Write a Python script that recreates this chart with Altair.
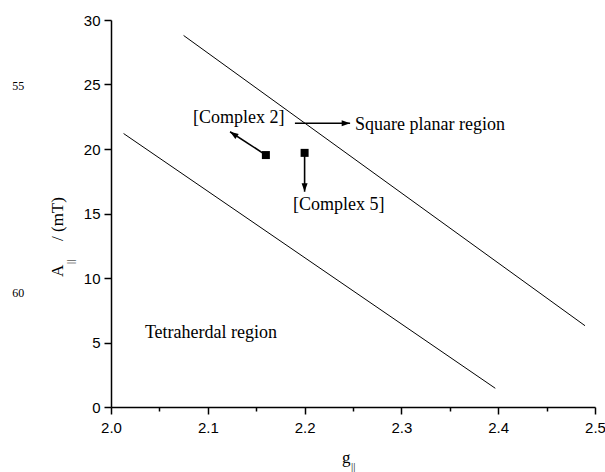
import altair as alt
import pandas as pd

# boundary lines (g_par, A_par)
line_id = ["tetra", "tetra", "square", "square"]
line_g = [2.013, 2.397, 2.075, 2.4897]
line_A = [21.2, 1.45, 28.8, 6.3]

# complexes
pt_name = ["Complex 2", "Complex 5"]
pt_g = [2.160, 2.200]
pt_A = [19.53, 19.7]

# arrows: start -> tip
ar_g1 = [2.160, 2.200, 2.190]
ar_A1 = [19.53, 19.7, 22.0]
ar_g2 = [2.123, 2.200, 2.247]
ar_A2 = [21.34, 16.69, 22.0]
ar_angle = [304, 180, 90]

# annotations
lab_text = ["[Complex 2]", "[Complex 5]", "Square planar region", "Tetraherdal region"]
lab_g = [2.0847, 2.188, 2.252, 2.035]
lab_A = [22.4, 15.66, 21.86, 5.74]

side_text = ["55", "60"]
side_g = [1.898, 1.898]
side_A = [24.9, 8.84]

x_ticks = [2.0, 2.05, 2.1, 2.15, 2.2, 2.25, 2.3, 2.35, 2.4, 2.45, 2.5]
y_ticks = [0, 2.5, 5, 7.5, 10, 12.5, 15, 17.5, 20, 22.5, 25, 27.5, 30]

lines_df = pd.DataFrame({"id": line_id, "g": line_g, "A": line_A})
pts_df = pd.DataFrame({"name": pt_name, "g": pt_g, "A": pt_A})
ar_df = pd.DataFrame({"g1": ar_g1, "A1": ar_A1, "g2": ar_g2, "A2": ar_A2, "ang": ar_angle})
lab_df = pd.DataFrame({"t": lab_text, "g": lab_g, "A": lab_A})
side_df = pd.DataFrame({"t": side_text, "g": side_g, "A": side_A})

xmaj = "abs(datum.value*10 - round(datum.value*10)) < 0.001"
ymaj = "datum.value % 5 == 0"

xscale = alt.Scale(domain=[2.0, 2.5], nice=False, zero=False)
yscale = alt.Scale(domain=[0, 30], nice=False, zero=False)

xaxis = alt.Axis(
    values=x_ticks, title=None, grid=False,
    labelExpr=f"({xmaj}) ? format(datum.value, '.1f') : ''",
    tickSize={"condition": {"test": xmaj, "value": 7}, "value": 4},
    labelPadding=6, labelFlush=False, labelOverlap=False,
)
yaxis = alt.Axis(
    values=y_ticks, title=None, grid=False,
    labelExpr=f"({ymaj}) ? format(datum.value, 'd') : ''",
    tickSize={"condition": {"test": ymaj, "value": 7}, "value": 4},
    labelPadding=4, labelOverlap=False,
)

X = alt.X("g:Q", scale=xscale, axis=xaxis)
Y = alt.Y("A:Q", scale=yscale, axis=yaxis)

lines = alt.Chart(lines_df).mark_line(color="black", strokeWidth=1).encode(
    x=X, y=Y, detail="id:N"
)

shafts = alt.Chart(ar_df).mark_rule(color="black", strokeWidth=1.6).encode(
    x=alt.X("g1:Q", scale=xscale), y=alt.Y("A1:Q", scale=yscale),
    x2="g2:Q", y2="A2:Q",
)

heads = alt.Chart(ar_df).mark_point(
    shape="M0,0 L1,2.8 L-1,2.8 Z", filled=True, color="black", opacity=1, size=36
).encode(
    x=alt.X("g2:Q", scale=xscale), y=alt.Y("A2:Q", scale=yscale),
    angle=alt.Angle("ang:Q", scale=None),
)

squares = alt.Chart(pts_df).mark_square(color="black", opacity=1, size=64).encode(
    x=alt.X("g:Q", scale=xscale), y=alt.Y("A:Q", scale=yscale)
)

labels = alt.Chart(lab_df).mark_text(
    font="Liberation Serif", fontSize=18, align="left", baseline="middle", color="black"
).encode(x=alt.X("g:Q", scale=xscale), y=alt.Y("A:Q", scale=yscale), text="t:N")

side = alt.Chart(side_df).mark_text(
    font="Liberation Serif", fontSize=12, align="left", baseline="middle", color="black"
).encode(x=alt.X("g:Q", scale=xscale), y=alt.Y("A:Q", scale=yscale), text="t:N")

# axis titles with subscripts
title_df = pd.DataFrame({"t": ["g"]})
xt1 = alt.Chart(title_df).mark_text(
    font="Liberation Serif", fontSize=17, align="left", baseline="alphabetic", color="black"
).encode(x=alt.value(231), y=alt.value(443), text=alt.value("g"))
xt2 = alt.Chart(title_df).mark_text(
    font="Liberation Serif", fontSize=11, align="left", baseline="alphabetic", color="black"
).encode(x=alt.value(240), y=alt.value(450), text=alt.value("||"))

yt1 = alt.Chart(title_df).mark_text(
    font="Liberation Serif", fontSize=17, align="left", baseline="alphabetic",
    color="black", angle=270
).encode(x=alt.value(-48), y=alt.value(257), text=alt.value("A"))
yt2 = alt.Chart(title_df).mark_text(
    font="Liberation Serif", fontSize=11, align="left", baseline="alphabetic",
    color="black", angle=270
).encode(x=alt.value(-37), y=alt.value(244), text=alt.value("||"))
yt3 = alt.Chart(title_df).mark_text(
    font="Liberation Serif", fontSize=17, align="left", baseline="alphabetic",
    color="black", angle=270
).encode(x=alt.value(-48), y=alt.value(221), text=alt.value("/ (mT)"))

chart = alt.layer(
    lines, shafts, heads, squares, labels, side, xt1, xt2, yt1, yt2, yt3
).properties(
    width=484, height=387,
    autosize=alt.AutoSizeParams(type="none"),
    padding={"left": 111, "top": 20, "right": 10, "bottom": 65},
    background="white",
).configure_view(stroke=None).configure_axis(
    domainColor="black", domainWidth=1.5, tickColor="black", tickWidth=1.5,
    labelFont="Liberation Sans", labelFontSize=15, labelColor="black",
)

chart.save("out.html", embed_options={"renderer": "svg", "actions": False})
